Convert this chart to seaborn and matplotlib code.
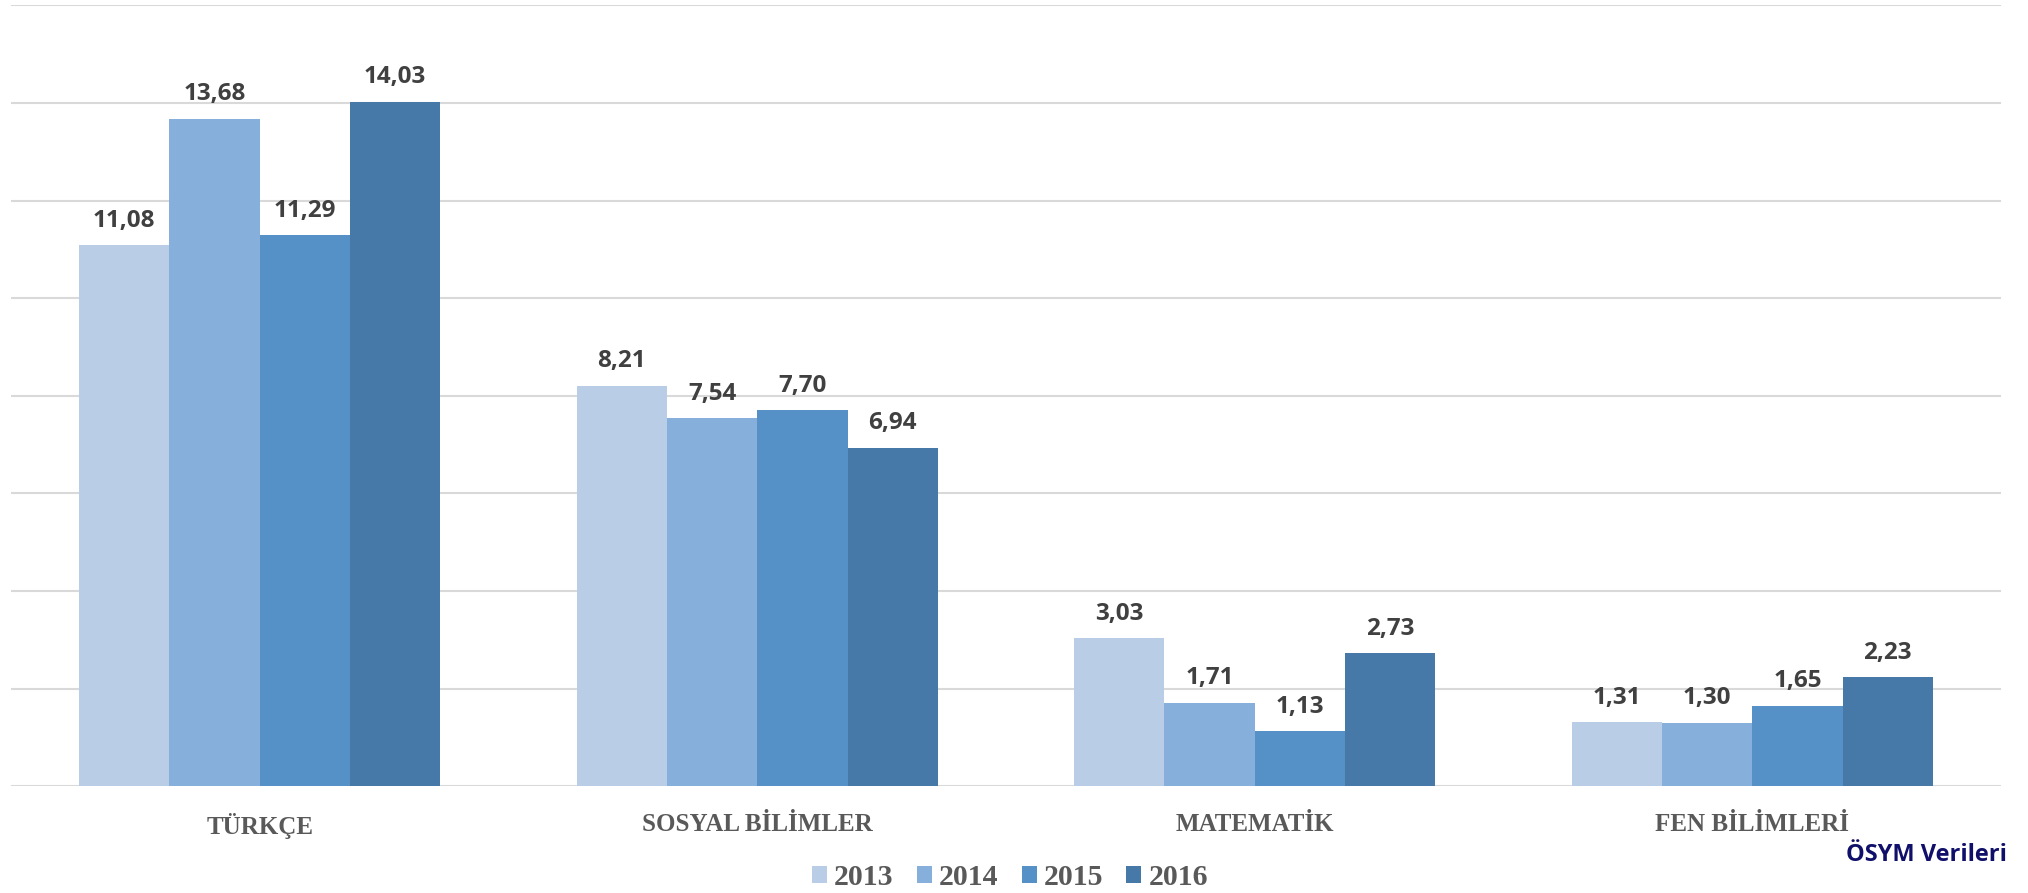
import numpy as np
import pandas as pd
import matplotlib
matplotlib.use('Agg')
import matplotlib.pyplot as plt
from matplotlib.patches import Patch
import seaborn as sns

# data
categories = ['TÜRKÇE', 'SOSYAL BİLİMLER', 'MATEMATİK', 'FEN BİLİMLERİ']
years = ['2013', '2014', '2015', '2016']
v2013 = [11.08, 8.21, 3.03, 1.31]
v2014 = [13.68, 7.54, 1.71, 1.30]
v2015 = [11.29, 7.70, 1.13, 1.65]
v2016 = [14.03, 6.94, 2.73, 2.23]
colors = ['#b9cde7', '#86afdc', '#5591c7', '#4678a8']

rows = []
for year, vals in zip(years, [v2013, v2014, v2015, v2016]):
    for cat, v in zip(categories, vals):
        rows.append({'ders': cat, 'yil': year, 'deger': v})
df = pd.DataFrame(rows)

sns.set_theme(style='white')
serif = ['Liberation Serif', 'DejaVu Serif']
narrow = ['Liberation Sans Narrow', 'Open Sans', 'DejaVu Sans']

fig = plt.figure(figsize=(20.28, 8.93), dpi=100)
ax = fig.add_axes([0.0054, 0.1195, 0.9813, 0.8745])

sns.barplot(data=df, x='ders', y='deger', hue='yil', order=categories,
            hue_order=years, palette=colors, width=0.726, errorbar=None,
            edgecolor='none', linewidth=0, saturation=1, legend=False, ax=ax)

for cont in ax.containers:
    ax.bar_label(cont, labels=['{:.2f}'.format(b.get_height()).replace('.', ',') for b in cont],
                 padding=9, fontsize=17.5, fontweight='bold', color='#404040', family=narrow)

ax.set_ylim(0, 16)
ax.set_xlim(-0.5, 3.5)
ax.set_yticks(np.arange(0, 17, 2))
ax.yaxis.grid(True, color='#d9d9d9', linewidth=1.5)
ax.set_axisbelow(True)
ax.tick_params(axis='y', left=False, labelleft=False)
ax.tick_params(axis='x', length=0, pad=19)
for lab in ax.get_xticklabels():
    lab.set_family(serif)
    lab.set_fontweight('bold')
    lab.set_fontsize(18)
    lab.set_color('#595959')
ax.set_xlabel('')
ax.set_ylabel('')
for s in ax.spines.values():
    s.set_visible(False)

handles = [Patch(facecolor=c, edgecolor='none', label=y) for c, y in zip(colors, years)]
leg = fig.legend(handles=handles, loc='center', bbox_to_anchor=(0.498, 0.0168), ncol=4,
                 frameon=False, handlelength=0.5, handleheight=0.5, handletextpad=0.24,
                 columnspacing=0.78, borderpad=0, borderaxespad=0,
                 prop={'family': serif, 'weight': 'bold', 'size': 21.5})
for t in leg.get_texts():
    t.set_color('#595959')

fig.text(0.9897, 0.0426, 'ÖSYM Verileri', ha='right', va='center', fontsize=17,
         fontweight='bold', color='#10106b', family=narrow)

fig.savefig('out.png', dpi=100)
